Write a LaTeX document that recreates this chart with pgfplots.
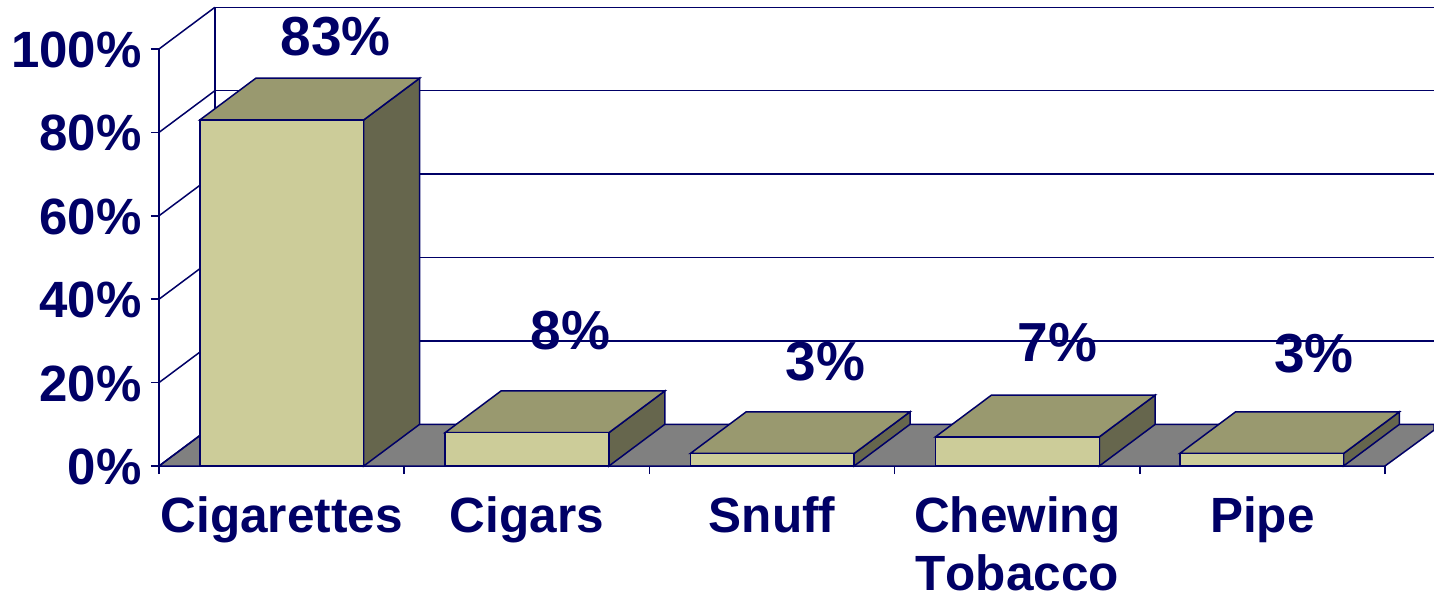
\documentclass[border=0pt]{standalone}
\usepackage{pgfplots}
\pgfplotsset{compat=1.18}
\usepackage{fontspec}
\setmainfont[Kerning=Off]{Liberation Sans}
\definecolor{navy}{HTML}{000066}
\definecolor{frontc}{HTML}{CCCC99}
\definecolor{topc}{HTML}{99996F}
\definecolor{sidec}{HTML}{66664D}
\definecolor{floorc}{HTML}{808080}
\tikzset{ln/.style={draw=navy, line width=1.5pt, line join=miter, mark=none}}
\begin{document}
\begin{tikzpicture}
\path[use as bounding box] (-159pt,-129pt) rectangle (1275pt,466pt);
\begin{axis}[
  at={(0pt,0pt)}, anchor=origin,
  width=1226pt, height=417pt, scale only axis,
  xmin=0, xmax=5, ymin=0, ymax=100, clip=false,
  axis x line=bottom, axis y line=left,
  axis line style={draw=navy, line width=1.5pt, -},
  x axis line style={-}, y axis line style={-},
  tick style={draw=navy, line width=1.5pt},
  xtick={0.5,1.5,2.5,3.5,4.5},
  xticklabels={Cigarettes,Cigars,Snuff,{Chewing\\Tobacco},Pipe},
  minor xtick={0,1,2,3,4,5},
  ytick={0,20,40,60,80,100},
  yticklabels={0\%,20\%,40\%,60\%,80\%,100\%},
  major x tick style={draw=none},
  major tick length=8pt, minor tick length=8pt,
  tick align=outside, tickpos=left,
  x tick label style={font=\fontsize{49.5}{58}\selectfont\bfseries, text=navy, align=center, anchor=north, yshift=-19pt},
  y tick label style={font=\fontsize{51}{60}\selectfont\bfseries, text=navy, anchor=east, xshift=-6pt, yshift=-1pt},
  /pgf/number format/assume math mode=true,
]
% floor
\addplot[ln, fill=floorc] coordinates {(0,0) (5,0) (5.2,8.6) (5.2,10) (0.228,10)} -- cycle;
% back wall gridlines
\addplot[ln] coordinates {(0.228,10) (5.2,10)};
\addplot[ln] coordinates {(0.228,30) (5.2,30)};
\addplot[ln] coordinates {(0.228,50) (5.2,50)};
\addplot[ln] coordinates {(0.228,70) (5.2,70)};
\addplot[ln] coordinates {(0.228,90) (5.2,90)};
\addplot[ln] coordinates {(0.228,110) (5.2,110)};
\addplot[ln] coordinates {(0.228,10) (0.228,110)};
% side wall
\addplot[ln] coordinates {(0,0) (0.228,10)};
\addplot[ln] coordinates {(0,20) (0.228,30)};
\addplot[ln] coordinates {(0,40) (0.228,50)};
\addplot[ln] coordinates {(0,60) (0.228,70)};
\addplot[ln] coordinates {(0,80) (0.228,90)};
\addplot[ln] coordinates {(0,100) (0.228,110)};
% Cigarettes 83
\addplot[ln, fill=sidec] coordinates {(0.835,0) (1.063,10) (1.063,93) (0.835,83)} -- cycle;
\addplot[ln, fill=topc] coordinates {(0.167,83) (0.835,83) (1.063,93) (0.395,93)} -- cycle;
\addplot[ln, fill=frontc] coordinates {(0.167,0) (0.835,0) (0.835,83) (0.167,83)} -- cycle;
% Cigars 8
\addplot[ln, fill=sidec] coordinates {(1.835,0) (2.063,10) (2.063,18) (1.835,8)} -- cycle;
\addplot[ln, fill=topc] coordinates {(1.167,8) (1.835,8) (2.063,18) (1.395,18)} -- cycle;
\addplot[ln, fill=frontc] coordinates {(1.167,0) (1.835,0) (1.835,8) (1.167,8)} -- cycle;
% Snuff 3
\addplot[ln, fill=sidec] coordinates {(2.835,0) (3.063,10) (3.063,13) (2.835,3)} -- cycle;
\addplot[ln, fill=topc] coordinates {(2.167,3) (2.835,3) (3.063,13) (2.395,13)} -- cycle;
\addplot[ln, fill=frontc] coordinates {(2.167,0) (2.835,0) (2.835,3) (2.167,3)} -- cycle;
% Chewing Tobacco 7
\addplot[ln, fill=sidec] coordinates {(3.835,0) (4.063,10) (4.063,17) (3.835,7)} -- cycle;
\addplot[ln, fill=topc] coordinates {(3.167,7) (3.835,7) (4.063,17) (3.395,17)} -- cycle;
\addplot[ln, fill=frontc] coordinates {(3.167,0) (3.835,0) (3.835,7) (3.167,7)} -- cycle;
% Pipe 3
\addplot[ln, fill=sidec] coordinates {(4.831,0) (5.059,10) (5.059,13) (4.831,3)} -- cycle;
\addplot[ln, fill=topc] coordinates {(4.163,3) (4.831,3) (5.059,13) (4.391,13)} -- cycle;
\addplot[ln, fill=frontc] coordinates {(4.163,0) (4.831,0) (4.831,3) (4.163,3)} -- cycle;
% data labels
\addplot[draw=none, nodes near coords={\pgfplotspointmeta\%},
  point meta=explicit symbolic,
  every node near coord/.style={font=\fontsize{55}{60}\selectfont\bfseries, text=navy, anchor=center}]
  coordinates {(0.721,103) [83] (1.678,32.5) [8] (2.719,25.1) [3] (3.665,29.6) [7] (4.71,27) [3]};
\end{axis}
\end{tikzpicture}
\end{document}
